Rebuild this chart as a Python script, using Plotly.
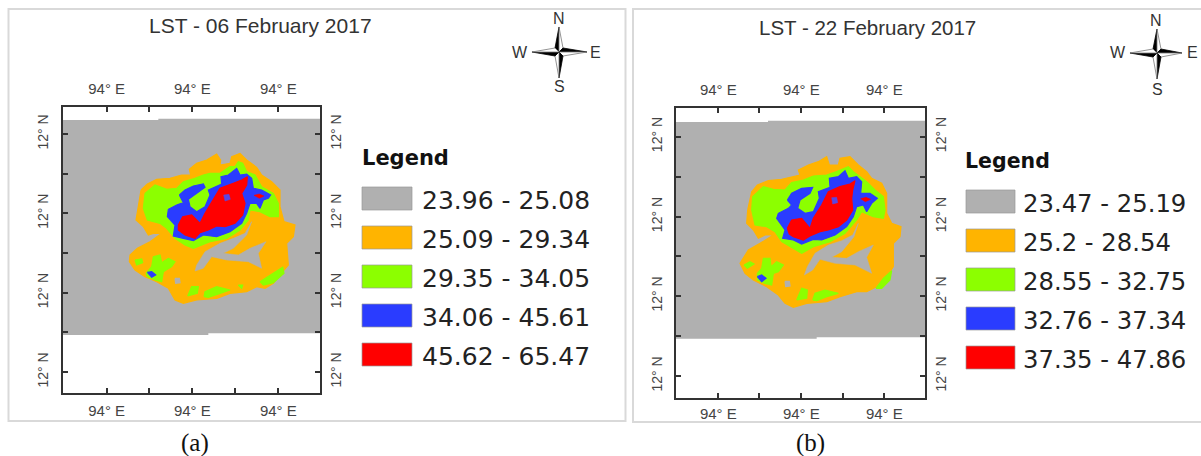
import plotly.graph_objects as go

W, H = 1201, 456

# ---------- text ----------
TITLE_A = "LST - 06 February 2017"
TITLE_B = "LST - 22 February 2017"
LEGEND_A = ["23.96 - 25.08", "25.09 - 29.34", "29.35 - 34.05", "34.06 - 45.61", "45.62 - 65.47"]
LEGEND_B = ["23.47 - 25.19", "25.2 - 28.54", "28.55 - 32.75", "32.76 - 37.34", "37.35 - 47.86"]
LON_LABEL = "94° E"
LAT_LABEL = "12° N"
COLORS = ["#B0B0B0", "#FFB400", "#8CFF00", "#2A3CFF", "#FF0000"]

# ---------- tick positions (map units) ----------
A_XTICKS = [140, 268, 397, 526, 655]
A_YTICKS = [72, 192, 310, 430, 548, 667, 786]
B_XTICKS = [145, 268, 394, 518, 643]
B_YTICKS = [80, 200, 320, 438, 558, 678, 798]

# ---------- panel (a) classes ----------
A_GRAY = [(8,30),(295,30),(295,26),(780,26),(780,670),(445,670),(445,675),(8,675)]
A_ORANGE = [(243,240),(262,222),(290,208),(330,205),(365,195),(392,195),(388,178),(410,160),(440,150),(470,132),(482,150),(480,165),(510,160),(515,140),(540,130),(560,150),(590,172),(605,195),(635,215),(660,240),(660,290),(672,335),(705,345),(700,380),(680,400),(685,465),(660,495),(640,520),(615,535),(590,530),(560,545),(510,550),(470,565),(410,570),(370,580),(345,570),(325,535),(290,515),(255,500),(225,480),(208,455),(210,435),(232,415),(270,395),(305,370),(280,370),(265,375),(250,350),(228,330),(235,290)]
A_CHANNEL = [(575,335),(555,370),(520,385),(480,400),(435,425),(410,465),(405,483),(430,475),(455,440),(500,450),(565,455),(605,475),(595,430),(618,395),(570,415),(535,435),(490,430),(520,415),(560,375)]
A_HOLE = [(345,505),(358,505),(360,518),(347,520)]
A_GREEN = [(255,250),(285,225),(320,238),(350,235),(370,215),(405,205),(430,195),(450,190),(480,190),(510,170),(525,170),(535,155),(548,160),(560,185),(585,195),(605,230),(640,250),(655,280),(655,320),(630,320),(600,305),(570,300),(565,330),(540,360),(500,385),(450,395),(400,415),(375,405),(345,385),(320,355),(300,340),(262,330),(250,295)]
A_GREEN_SPOTS = [
    [(225,450),(245,447),(248,458),(230,465)],
    [(258,490),(275,470),(280,440),(300,435),(305,458),(325,445),(345,455),(335,470),(310,485),(305,515),(285,510),(262,500)],
    [(383,558),(395,530),(415,530),(412,550)],
    [(432,560),(435,545),(470,530),(510,540),(480,550),(445,562)],
    [(600,515),(630,495),(668,472),(672,490),(640,518),(610,525)],
    [(535,525),(548,525),(545,535)],
]
A_BLUE = [(358,255),(375,240),(400,228),(430,222),(435,232),(410,250),(385,268),(390,290),(410,305),(435,290),(450,255),(445,240),(485,222),(483,200),(505,195),(530,175),(540,195),(560,192),(575,205),(580,235),(605,240),(632,255),(625,265),(610,270),(600,295),(590,280),(570,280),(560,310),(545,340),(510,365),(470,380),(430,375),(400,392),(370,385),(340,378),(345,345),(322,320),(325,298),(350,285),(370,278)]
A_BLUE_SPOT = [(262,487),(275,485),(287,495),(275,502)]
A_RED = [(355,345),(368,320),(395,315),(420,340),(435,310),(460,270),(480,235),(520,220),(545,210),(562,200),(560,225),(545,250),(555,280),(548,315),(525,340),(495,350),(470,348),(445,360),(420,368),(405,385),(375,375),(355,360)]
A_RED_SPOT = [(582,256),(598,252),(612,258),(598,265)]
A_BLUE_DOT = [(491,255),(507,253),(511,268),(495,273)]

# ---------- panel (b) classes ----------
B_GRAY = [(17,36),(294,36),(294,32),(765,32),(765,682),(440,682),(440,686),(17,686)]
B_ORANGE = [(233,300),(245,245),(262,225),(295,212),(335,208),(365,200),(390,195),(385,180),(415,165),(445,155),(470,140),(478,165),(505,165),(510,145),(540,140),(565,165),(590,185),(605,205),(635,220),(650,250),(650,310),(665,340),(693,350),(690,380),(670,400),(670,470),(650,500),(630,525),(590,545),(560,545),(510,560),(470,575),(410,580),(370,592),(345,580),(325,555),(290,530),(250,510),(225,490),(210,460),(235,420),(270,400),(310,375),(285,375),(265,385),(250,360),(230,340)]
B_CHANNEL = [(565,340),(548,375),(515,392),(475,405),(435,430),(412,470),(403,495),(428,480),(450,448),(495,460),(555,465),(605,490),(590,442),(610,405),(565,425),(530,445),(485,442),(515,425),(552,380)]
B_HOLE = [(345,514),(358,514),(360,528),(347,530)]
B_GREEN = [(248,260),(280,230),(310,238),(345,240),(365,218),(400,210),(430,198),(470,195),(500,185),(525,175),(535,170),(550,185),(590,215),(615,240),(640,260),(645,300),(640,325),(610,320),(575,305),(560,330),(525,370),(480,395),(430,410),(395,430),(360,410),(335,395),(315,365),(290,350),(255,345),(245,300)]
B_GREEN_SPOTS = [
    [(222,465),(240,455),(252,462),(232,475)],
    [(262,490),(275,475),(280,445),(300,445),(303,470),(320,455),(340,465),(325,485),(310,490),(305,525),(285,520),(262,510)],
    [(380,570),(395,535),(412,540),(410,565)],
    [(428,570),(435,550),(465,540),(505,550),(470,560),(440,572)],
    [(618,535),(640,505),(665,482),(660,510),(635,535)],
]
B_BLUE = [(352,270),(365,250),(395,235),(428,232),(420,250),(390,270),(383,295),(405,310),(430,305),(448,265),(445,245),(480,232),(478,205),(505,200),(525,182),(535,205),(560,200),(575,215),(572,250),(600,250),(622,265),(605,280),(590,305),(580,285),(560,290),(550,320),(530,350),(495,375),(455,390),(430,388),(395,402),(370,390),(338,385),(345,360),(320,325),(325,310),(355,295),(365,285)]
B_BLUE_SPOT = [(262,500),(275,495),(288,505),(275,515)]
B_RED = [(352,355),(365,330),(395,325),(420,355),(430,325),(455,285),(475,245),(510,230),(540,222),(555,212),(548,240),(545,265),(548,300),(530,330),(505,350),(475,360),(450,365),(420,378),(400,390),(370,380),(358,372)]
B_RED_SPOT = [(572,266),(588,262),(602,268),(586,275)]
B_BLUE_DOT = [(485,263),(500,262),(503,278),(488,282)]


def px(x):
    return x / W


def py(y):
    return 1 - y / H


fig = go.Figure()


def poly(points, color, xa, ya, edge=1.2):
    xs = [p[0] for p in points] + [points[0][0]]
    ys = [p[1] for p in points] + [points[0][1]]
    fig.add_trace(go.Scatter(
        x=xs, y=ys, mode="lines", fill="toself", fillcolor=color,
        line=dict(width=edge, color=color, shape="linear"),
        hoverinfo="skip", showlegend=False, xaxis=xa, yaxis=ya))


def draw_panel(xa, ya, xb, yb, gray, orange, channel, hole, green, spots, blue, blue_spot, red, red_spot, dot):
    poly(gray, COLORS[0], xa, ya, edge=0)
    poly(orange, COLORS[1], xb, yb)
    poly(channel, COLORS[0], xb, yb, edge=0.5)
    poly(hole, COLORS[0], xb, yb)
    poly(green, COLORS[2], xb, yb)
    for s in spots:
        poly(s, COLORS[2], xb, yb)
    poly(blue, COLORS[3], xb, yb)
    poly(blue_spot, COLORS[3], xb, yb)
    poly(red, COLORS[4], xb, yb)
    poly(red_spot, COLORS[4], xb, yb, edge=0.5)
    poly(dot, "#5A46E0", xb, yb, edge=0.5)


draw_panel("x", "y", "x2", "y2", A_GRAY, A_ORANGE, A_CHANNEL, A_HOLE, A_GREEN, A_GREEN_SPOTS,
           A_BLUE, A_BLUE_SPOT, A_RED, A_RED_SPOT, A_BLUE_DOT)
draw_panel("x3", "y3", "x4", "y4", B_GRAY, B_ORANGE, B_CHANNEL, B_HOLE, B_GREEN, B_GREEN_SPOTS,
           B_BLUE, B_BLUE_SPOT, B_RED, B_RED_SPOT, B_BLUE_DOT)

LINE = "#333333"
TICKFONT_X = dict(family="Liberation Sans", size=15, color="#444444")
TICKFONT_Y = dict(family="Liberation Sans", size=14, color="#444444")


def x_axis(dom, rng, ticks, standoff, **kw):
    labels = [LON_LABEL if i % 2 == 0 else "" for i in range(len(ticks))]
    return dict(domain=dom, range=rng, tickmode="array", tickvals=ticks, ticktext=labels,
                ticks="inside", ticklen=5, tickwidth=1.5, tickcolor=LINE, tickangle=0,
                showline=True, linecolor=LINE, linewidth=2, showgrid=False, zeroline=False,
                tickfont=TICKFONT_X, ticklabelstandoff=standoff, **kw)


def y_axis(dom, rng, ticks, standoff, **kw):
    labels = [LAT_LABEL if i % 2 == 0 else "" for i in range(len(ticks))]
    return dict(domain=dom, range=rng, tickmode="array", tickvals=ticks, ticktext=labels,
                ticks="inside", ticklen=5, tickwidth=1.5, tickcolor=LINE, tickangle=-90,
                showline=True, linecolor=LINE, linewidth=2, showgrid=False, zeroline=False,
                tickfont=TICKFONT_Y, ticklabelstandoff=standoff, **kw)


A_XDOM = [px(62.7), px(320)]
A_YDOM = [py(393.3), py(106.7)]
A_XR = [8, 780]
A_YR = [850, -10]
B_XDOM = [px(675.7), px(925)]
B_YDOM = [py(397.7), py(108.3)]
B_XR = [17, 765]
B_YR = [863, -5]

fig.update_layout(
    xaxis=x_axis(A_XDOM, A_XR, A_XTICKS, 3, anchor="y", side="bottom"),
    yaxis=y_axis(A_YDOM, A_YR, A_YTICKS, 7, anchor="x", side="left"),
    xaxis2=x_axis(A_XDOM, A_XR, A_XTICKS, 5, anchor="y2", side="top", overlaying="x"),
    yaxis2=y_axis(A_YDOM, A_YR, A_YTICKS, 2, anchor="x2", side="right", overlaying="y"),
    xaxis3=x_axis(B_XDOM, B_XR, B_XTICKS, 1, anchor="y3", side="bottom"),
    yaxis3=y_axis(B_YDOM, B_YR, B_YTICKS, 6, anchor="x3", side="left"),
    xaxis4=x_axis(B_XDOM, B_XR, B_XTICKS, 5, anchor="y4", side="top", overlaying="x3"),
    yaxis4=y_axis(B_YDOM, B_YR, B_YTICKS, 2, anchor="x4", side="right", overlaying="y3"),
)

shapes = []
annots = []


def rect(x0, y0, x1, y1, line=None, fill=None, width=1):
    shapes.append(dict(type="rect", xref="paper", yref="paper", x0=px(x0), x1=px(x1), y0=py(y0), y1=py(y1),
                       line=dict(color=line, width=width) if line else dict(width=0),
                       fillcolor=fill, layer="below"))


def text(x, y, s, size, family="Liberation Sans", color="#333333", anchor="center", bold=False):
    annots.append(dict(xref="paper", yref="paper", x=px(x), y=py(y), text=f"<b>{s}</b>" if bold else s,
                       showarrow=False, xanchor=anchor, yanchor="middle",
                       font=dict(family=family, size=size, color=color)))


def tri(points, fill, edge):
    d = "M " + " L ".join(f"{px(a):.5f},{py(b):.5f}" for a, b in points) + " Z"
    shapes.append(dict(type="path", path=d, xref="paper", yref="paper", fillcolor=fill,
                       line=dict(color=edge, width=0.8)))


def compass(cx, cy, up, down, left, right):
    a = 4
    tri([(cx, cy), (cx - a, cy - a), (cx, cy - up)], "#000000", "#000000")
    tri([(cx, cy), (cx + a, cy - a), (cx, cy - up)], "#FFFFFF", "#777777")
    tri([(cx, cy), (cx + a, cy - a), (cx + right, cy)], "#000000", "#000000")
    tri([(cx, cy), (cx + a, cy + a), (cx + right, cy)], "#FFFFFF", "#777777")
    tri([(cx, cy), (cx + a, cy + a), (cx, cy + down)], "#000000", "#000000")
    tri([(cx, cy), (cx - a, cy + a), (cx, cy + down)], "#FFFFFF", "#777777")
    tri([(cx, cy), (cx - a, cy + a), (cx - left, cy)], "#000000", "#000000")
    tri([(cx, cy), (cx - a, cy - a), (cx - left, cy)], "#FFFFFF", "#777777")


# panel borders
rect(8.5, 9, 625.5, 421, line="#D9D9D9", width=2)
rect(633, 9, 1210, 422, line="#D9D9D9", width=2)

# titles
text(260, 25, TITLE_A, 21)
text(867, 28, TITLE_B, 20.5)

# compass
compass(559, 52, 25, 26, 27, 28)
text(559, 18, "N", 16)
text(559, 87, "S", 16)
text(520, 52, "W", 16)
text(595, 52, "E", 16)
compass(1157, 53, 24, 26, 27, 25)
text(1156, 20, "N", 16)
text(1157, 89, "S", 16)
text(1118, 53, "W", 16)
text(1192, 53, "E", 16)

# legends
text(360, 158, "Legend", 21, family="DejaVu Sans", color="#111111", anchor="left", bold=True)
for i, lab in enumerate(LEGEND_A):
    y = 187 + 39 * i
    rect(362, y, 412, y + 23, line="#999999", fill=COLORS[i], width=0.7)
    text(420, y + 13, lab, 25, family="DejaVu Sans", color="#222222", anchor="left")
text(963, 161, "Legend", 20.5, family="DejaVu Sans", color="#111111", anchor="left", bold=True)
for i, lab in enumerate(LEGEND_B):
    y = 190 + 39 * i
    rect(966, y, 1015, y + 23, line="#999999", fill=COLORS[i], width=0.7)
    text(1021, y + 13, lab, 24.3, family="DejaVu Sans", color="#222222", anchor="left")

# captions
text(195, 443, "(a)", 25, family="Liberation Serif", color="#111111")
text(810, 443, "(b)", 25, family="Liberation Serif", color="#111111")

fig.update_layout(width=W, height=H, margin=dict(l=0, r=0, t=0, b=0, pad=0),
                  paper_bgcolor="white", plot_bgcolor="white", showlegend=False,
                  shapes=shapes, annotations=annots)

fig.write_html("out.html", config={"displayModeBar": False},
               post_script="document.body.style.margin='0';document.body.style.overflow='hidden';")
